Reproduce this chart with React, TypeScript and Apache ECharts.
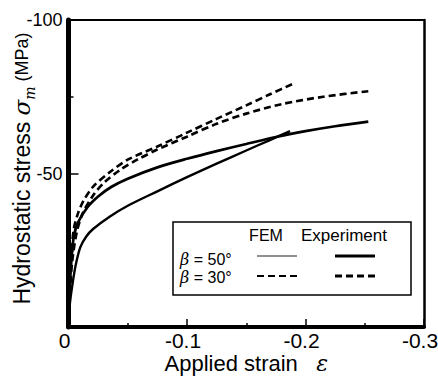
import React, { useEffect, useRef } from "react";
import * as echarts from "echarts";

// ---- data (strain ε, hydrostatic stress σm in MPa) ----
const fem50Strain = [0, -0.001, -0.003, -0.006, -0.010, -0.015, -0.021, -0.035, -0.050, -0.075, -0.100, -0.125, -0.150, -0.170, -0.187];
const fem50Stress = [0, -7, -13, -20, -26, -29.5, -32, -36, -39.5, -44.2, -48.8, -53.2, -57.5, -60.9, -63.8];

const exp50Strain = [0, -0.001, -0.0025, -0.0045, -0.008, -0.016, -0.025, -0.036, -0.050, -0.075, -0.100, -0.125, -0.150, -0.175, -0.200, -0.225, -0.253];
const exp50Stress = [0, -12, -22, -29.5, -34, -39, -42.5, -45.6, -48.3, -52, -54.8, -57.3, -59.6, -61.9, -63.8, -65.4, -66.9];

const fem30Strain = [0, -0.001, -0.0025, -0.0045, -0.008, -0.0125, -0.021, -0.035, -0.050, -0.075, -0.100, -0.125, -0.150, -0.170, -0.191];
const fem30Stress = [0, -13, -24, -32, -37, -41, -45.8, -50.5, -54.5, -58.8, -63.3, -67.8, -72.2, -75.8, -79.5];

const exp30Strain = [0, -0.001, -0.003, -0.007, -0.012, -0.021, -0.030, -0.044, -0.058, -0.075, -0.100, -0.125, -0.150, -0.180, -0.215, -0.253];
const exp30Stress = [0, -10, -21, -31, -37, -43, -47, -51.3, -54.5, -57.8, -62, -66.2, -69.5, -72.6, -75, -76.8];

const xTicks = { min: -0.3, max: 0, interval: 0.1 };
const yTicks = { min: -100, max: 0, interval: 50 };

const legendRows = ["50", "30"];
const legendCols = ["FEM", "Experiment"];

const FONT = "'Liberation Sans', Arial, Helvetica, sans-serif";

function zip(xs: number[], ys: number[]) {
  return xs.map((x, i) => [x, ys[i]]);
}

export default function App() {
  const ref = useRef<HTMLDivElement>(null);
  useEffect(() => {
    if (!ref.current) return;
    const chart = echarts.init(ref.current, undefined, { renderer: "svg" });

    const lineSeries = (name: string, data: number[][], width: number, dashed: boolean) => ({
      name,
      type: "line",
      data,
      smooth: 0.3,
      showSymbol: false,
      symbol: "none",
      lineStyle: { color: "#000", width, type: dashed ? [7, 4] : "solid" },
      z: 2,
    });

    const frameAxis = {
      axisTick: { show: false },
      axisLabel: { show: false },
      splitLine: { show: false },
    };

    chart.setOption({
      animation: false,
      backgroundColor: "#fff",
      grid: { left: 68.5, right: 14, top: 20, bottom: 50, containLabel: false, outerBoundsMode: "none" },
      xAxis: [
        {
          type: "value",
          min: xTicks.min,
          max: xTicks.max,
          interval: xTicks.interval,
          inverse: true,
          position: "bottom",
          axisLine: { show: true, onZero: false, lineStyle: { color: "#000", width: 4 } },
          axisTick: { show: true, inside: true, length: 8, lineStyle: { color: "#000", width: 1.5 } },
          minorTick: { show: true, splitNumber: 2, length: 4, lineStyle: { color: "#000", width: 1.5 } },
          splitLine: { show: false },
          axisLabel: {
            color: "#000",
            fontSize: 21,
            fontFamily: FONT,
            margin: 3,
            padding: [0, 8, 0, 0],
            formatter: (v: number) => (Math.abs(v) < 1e-9 ? "0" : v.toFixed(1)),
          },
          name: "{t|Applied strain   }{e|ε}",
          nameLocation: "middle",
          nameGap: 24,
          nameMoveOverlap: false,
          nameTextStyle: {
            rich: {
              t: { fontSize: 22, lineHeight: 24, fontFamily: FONT, color: "#000" },
              e: { fontSize: 22, lineHeight: 24, fontFamily: "'DejaVu Serif', serif", fontStyle: "italic", color: "#000" },
            },
          },
        },
        {
          type: "value",
          min: xTicks.min,
          max: xTicks.max,
          inverse: true,
          position: "top",
          axisLine: { show: true, onZero: false, lineStyle: { color: "#000", width: 2 } },
          ...frameAxis,
        },
      ],
      yAxis: [
        {
          type: "value",
          min: yTicks.min,
          max: yTicks.max,
          interval: yTicks.interval,
          inverse: true,
          position: "left",
          axisLine: { show: true, onZero: false, lineStyle: { color: "#000", width: 5 } },
          axisTick: { show: true, inside: true, length: 10, lineStyle: { color: "#000", width: 1.5 } },
          minorTick: { show: true, splitNumber: 2, length: 5, lineStyle: { color: "#000", width: 1.5 } },
          splitLine: { show: false },
          axisLabel: {
            color: "#000",
            fontSize: 18,
            fontFamily: FONT,
            margin: 6,
            formatter: (v: number) => (Math.abs(v) < 1e-9 ? "" : String(v)),
          },
          name: "{t|Hydrostatic stress }{s|σ}{m|m}{u| (MPa)}",
          nameLocation: "middle",
          nameRotate: 90,
          nameGap: 32,
          nameMoveOverlap: false,
          nameTextStyle: {
            padding: [0, 0, 0, 10],
            rich: {
              t: { fontSize: 23, fontFamily: FONT, color: "#000", lineHeight: 30 },
              s: { fontSize: 23, fontFamily: "'DejaVu Serif', serif", fontStyle: "italic", color: "#000", lineHeight: 30 },
              m: { fontSize: 14, fontFamily: "'DejaVu Serif', serif", fontStyle: "italic", color: "#000", lineHeight: 14, verticalAlign: "bottom" },
              u: { fontSize: 18, fontFamily: FONT, color: "#000", lineHeight: 30 },
            },
          },
        },
        {
          type: "value",
          min: yTicks.min,
          max: yTicks.max,
          inverse: true,
          position: "right",
          axisLine: { show: true, onZero: false, lineStyle: { color: "#000", width: 2.5 } },
          ...frameAxis,
        },
      ],
      series: [
        lineSeries("FEM β=50°", zip(fem50Strain, fem50Stress), 2.4, false),
        lineSeries("Experiment β=50°", zip(exp50Strain, exp50Stress), 2.7, false),
        lineSeries("FEM β=30°", zip(fem30Strain, fem30Stress), 2.6, true),
        lineSeries("Experiment β=30°", zip(exp30Strain, exp30Stress), 2.7, true),
      ],
      graphic: [
        {
          type: "group",
          z: 100,
          children: [
            {
              type: "rect",
              shape: { x: 173, y: 222, width: 238, height: 73 },
              style: { fill: "#fff", stroke: "#000", lineWidth: 1.5 },
            },
            {
              type: "text",
              x: 266,
              y: 235,
              style: { text: legendCols[0], fontSize: 16, fontFamily: FONT, fill: "#000", align: "center", verticalAlign: "middle" },
            },
            {
              type: "text",
              x: 344,
              y: 235,
              style: { text: legendCols[1], fontSize: 17, fontFamily: FONT, fill: "#000", align: "center", verticalAlign: "middle" },
            },
            ...legendRows.map((deg, i) => ({
              type: "text",
              x: 180,
              y: 259 + i * 18,
              style: {
                text: "{b|β}{n| = " + deg + "°}",
                align: "left",
                verticalAlign: "middle",
                rich: {
                  b: { fontSize: 16, lineHeight: 15, fontFamily: "'DejaVu Serif', serif", fontStyle: "italic", fill: "#000" },
                  n: { fontSize: 16, lineHeight: 15, fontFamily: FONT, fill: "#000" },
                },
              },
            })),
            {
              type: "line",
              shape: { x1: 257, y1: 256, x2: 297, y2: 256 },
              style: { stroke: "#222", lineWidth: 1.2 },
            },
            {
              type: "line",
              shape: { x1: 335, y1: 256, x2: 375, y2: 256 },
              style: { stroke: "#000", lineWidth: 3 },
            },
            {
              type: "line",
              shape: { x1: 257, y1: 276, x2: 297, y2: 276 },
              style: { stroke: "#000", lineWidth: 1.8, lineDash: [7, 4] },
            },
            {
              type: "line",
              shape: { x1: 335, y1: 276, x2: 375, y2: 276 },
              style: { stroke: "#000", lineWidth: 3, lineDash: [7, 4] },
            },
          ],
        },
      ],
    });
    return () => chart.dispose();
  }, []);
  return (
    <div
      ref={ref}
      style={{ position: "fixed", left: 0, top: 0, width: 438, height: 377, background: "#fff" }}
    />
  );
}
